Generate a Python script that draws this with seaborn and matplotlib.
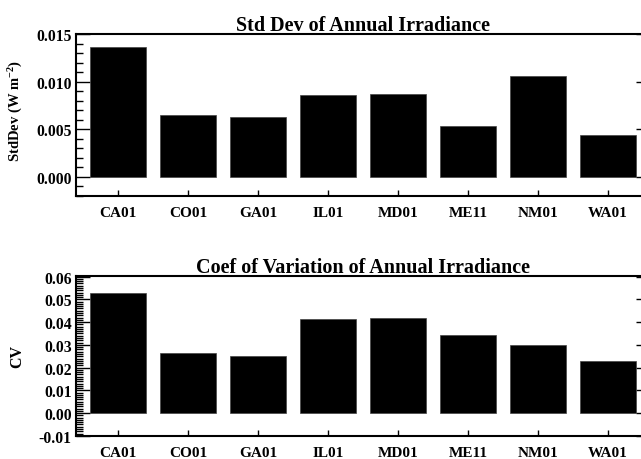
import matplotlib
matplotlib.use("Agg")
import matplotlib.pyplot as plt
import seaborn as sns
import numpy as np
from matplotlib.ticker import MultipleLocator, FormatStrFormatter

stations = ["CA01", "CO01", "GA01", "IL01", "MD01", "ME11", "NM01", "WA01"]
std_dev = [0.0136, 0.00655, 0.00634, 0.00864, 0.00867, 0.00536, 0.01064, 0.00441]
cv = [0.0526, 0.0263, 0.0250, 0.0414, 0.0419, 0.0345, 0.0298, 0.0228]

sns.set_theme(style="white")
plt.rcParams["font.family"] = ["Liberation Serif", "DejaVu Serif"]
plt.rcParams["font.weight"] = "bold"
plt.rcParams["text.color"] = "black"
plt.rcParams["axes.labelcolor"] = "black"
plt.rcParams["axes.unicode_minus"] = False
plt.rcParams["mathtext.fontset"] = "custom"
plt.rcParams["mathtext.rm"] = "Liberation Serif:bold"
plt.rcParams["mathtext.it"] = "Liberation Serif:bold"
plt.rcParams["mathtext.bf"] = "Liberation Serif:bold"
plt.rcParams["mathtext.default"] = "rm"

fig = plt.figure(figsize=(6.41, 4.60), dpi=100)
ax1 = fig.add_axes([76/641, 1-197/460, (650-76)/641, (197-35)/460])
ax2 = fig.add_axes([76/641, 1-437.3/460, (650-76)/641, (437.3-276.7)/460])

def style(ax, title, ylabel, ylim, major, minor, fmt, ylab_y, ylab_size):
    ax.set_xlim(-0.6, 7.6)
    ax.set_ylim(*ylim)
    ax.set_title(title, fontsize=14.5, fontweight="bold", pad=3, color="black")
    ax.set_ylabel(ylabel, fontsize=ylab_size, fontweight="bold", color="black")
    ax.yaxis.set_label_coords((25 - 76) / 574, ylab_y)
    ax.set_xlabel("")
    ax.yaxis.set_major_locator(MultipleLocator(major))
    ax.yaxis.set_minor_locator(MultipleLocator(minor))
    ax.yaxis.set_major_formatter(FormatStrFormatter(fmt))
    for s in ax.spines.values():
        s.set_color("black")
        s.set_linewidth(1.5)
    ax.tick_params(axis="y", which="major", direction="in", length=10, width=1.0,
                   left=True, right=True, labelsize=11.3, colors="black", pad=3)
    ax.tick_params(axis="y", which="minor", direction="in", length=5, width=1.0,
                   left=True, right=True, colors="black")
    ax.tick_params(axis="x", which="major", direction="in", length=4, width=1.0,
                   bottom=True, top=False, labelsize=11, colors="black", pad=7)
    for lab in ax.get_xticklabels() + ax.get_yticklabels():
        lab.set_fontweight("bold")

sns.barplot(x=stations, y=std_dev, color="black", saturation=1, width=0.79,
            ax=ax1, edgecolor="#444444", linewidth=0.5)
style(ax1, "Std Dev of Annual Irradiance", r"StdDev (W m$^{-2}$)",
      (-0.002, 0.015), 0.005, 0.001, "%.3f", 0.534, 10.5)

sns.barplot(x=stations, y=cv, color="black", saturation=1, width=0.79,
            ax=ax2, edgecolor="#444444", linewidth=0.5)
style(ax2, "Coef of Variation of Annual Irradiance", "CV",
      (-0.0102, 0.0604), 0.01, 0.001, "%.2f", 0.5, 11.5)

fig.savefig("out.png", dpi=100)
